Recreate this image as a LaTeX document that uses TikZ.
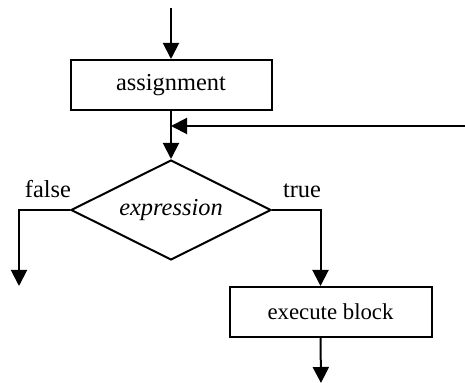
\documentclass[tikz,border=0pt]{standalone}
\usepackage{fontspec}
\setmainfont{Liberation Serif}
\usetikzlibrary{shapes.geometric,arrows.meta}
\begin{document}
\begin{tikzpicture}[x=0.5pt,y=-0.5pt,
  line width=1pt,
  flow/.style={-{Triangle[length=8pt,width=8pt]}},
  box/.style={draw,line width=1pt,inner sep=0pt,minimum width=100.5pt,minimum height=25pt,font=\fontsize{12.2}{14}\selectfont},
  decision/.style={draw,diamond,aspect=2,line width=1pt,inner sep=0pt,minimum width=100pt,minimum height=50pt,font=\fontsize{12.2}{14}\selectfont\itshape},
  lbl/.style={inner sep=0pt,anchor=base,font=\fontsize{12.2}{14}\selectfont}]
\useasboundingbox (0,0) rectangle (465,383);
\node[box] (assign) at (171,85) {assignment};
\node[decision] (expr) at (171,210) {expression};
\node[box,minimum width=101pt,font=\fontsize{11.4}{14}\selectfont] (exec) at (330.5,312) {execute block};
\coordinate (start) at (171,8);
\coordinate (loop) at (466,126);
\coordinate (join) at (171,126);
\coordinate (falseend) at (19,286);
\coordinate (execin) at ([xshift=46pt]exec.north west);
\coordinate (execout) at ([xshift=46pt]exec.south west);
\coordinate (endpt) at (321,383);
\node[lbl] (f) at (48,198) {false};
\node[lbl] (t) at (302,198) {true};
\draw[flow] (start) -- (assign.north);
\draw[flow] (assign.south) -- (expr.north);
\draw[flow] (loop) -- (join);
\draw[flow] (expr.west) -| (falseend);
\draw[flow] (expr.east) -| (execin);
\draw[flow] (execout) -- (endpt);
\end{tikzpicture}
\end{document}
